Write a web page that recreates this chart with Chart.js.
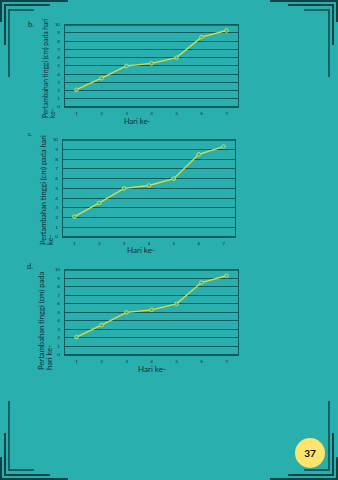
<!DOCTYPE html>
<html>
<head>
<meta charset="utf-8">
<script src="https://cdn.jsdelivr.net/npm/chart.js@4/dist/chart.umd.min.js"></script>
<style>
	html, body { margin: 0; padding: 0; }
	body {
		width: 338px; height: 480px; overflow: hidden; position: relative;
		background: #2aafaf; font-family: Lato, "DejaVu Sans", sans-serif; color: #10303a;
	}
	.abs { position: absolute; }
	canvas.abs { display: block; }
	.line { position: absolute; background: #0f4446; }
	.line.inner { background: #17605f; }
	.tag { position: absolute; font-size: 7.5px; color: #10303a; }
	.ytitle {
		position: absolute; transform-origin: 0 0; transform: rotate(-90deg);
		white-space: nowrap; font-size: 6.7px; line-height: 6.5px; color: #10303a;
	}
	.xtitle { position: absolute; font-size: 7.5px; color: #10303a; white-space: nowrap; }
	.page {
		position: absolute; left: 295px; top: 438px; width: 30px; height: 30px; border-radius: 50%;
		background: #fde46c; font: bold 10px Lato, sans-serif; color: #111;
		display: flex; align-items: center; justify-content: center;
	}
</style>
</head>
<body>

<!-- corner brackets -->
<div class="line" style="left:0;top:0;width:68px;height:2px"></div>
<div class="line" style="left:0;top:0;width:2px;height:22px"></div>
<div class="line" style="left:4px;top:4px;width:46px;height:2px"></div>
<div class="line" style="left:4px;top:4px;width:2px;height:41px"></div>
<div class="line inner" style="left:8px;top:9px;width:26px;height:2px"></div>
<div class="line inner" style="left:8px;top:9px;width:2px;height:68px"></div>

<div class="line" style="left:270px;top:0;width:68px;height:2px"></div>
<div class="line" style="left:336px;top:0;width:2px;height:22px"></div>
<div class="line" style="left:288px;top:4px;width:46px;height:2px"></div>
<div class="line" style="left:332px;top:4px;width:2px;height:41px"></div>
<div class="line inner" style="left:304px;top:9px;width:26px;height:2px"></div>
<div class="line inner" style="left:328px;top:9px;width:2px;height:68px"></div>

<div class="line" style="left:0;top:478px;width:68px;height:2px"></div>
<div class="line" style="left:0;top:457px;width:2px;height:23px"></div>
<div class="line" style="left:4px;top:474px;width:46px;height:2px"></div>
<div class="line" style="left:4px;top:433px;width:2px;height:43px"></div>
<div class="line inner" style="left:8px;top:469px;width:26px;height:2px"></div>
<div class="line inner" style="left:8px;top:401px;width:2px;height:70px"></div>

<div class="line" style="left:270px;top:478px;width:68px;height:2px"></div>
<div class="line" style="left:336px;top:457px;width:2px;height:23px"></div>
<div class="line" style="left:288px;top:474px;width:46px;height:2px"></div>
<div class="line" style="left:332px;top:433px;width:2px;height:43px"></div>
<div class="line inner" style="left:304px;top:469px;width:26px;height:2px"></div>
<div class="line inner" style="left:328px;top:401px;width:2px;height:70px"></div>

<!-- chart b -->
<div class="tag" style="left:28px;top:20px">b.</div>
<div class="ytitle" style="left:42px;top:118px">Pertambahan tinggi (cm) pada hari<br>ke-</div>
<div class="xtitle" style="left:124px;top:117px">Hari ke-</div>
<canvas id="chartB" class="abs" style="left:50px;top:18px" width="195" height="100"></canvas>

<!-- chart c -->
<div class="tag" style="left:28px;top:130px;font-size:6px">c.</div>
<div class="ytitle" style="left:40px;top:245px;font-size:7.4px;line-height:7px">Pertambahan tinggi (cm) pada hari<br>ke-</div>
<div class="xtitle" style="left:127px;top:245px;font-size:8px">Hari ke-</div>
<canvas id="chartC" class="abs" style="left:48px;top:133px" width="195" height="115"></canvas>

<!-- chart d -->
<div class="tag" style="left:27px;top:262px">d.</div>
<div class="ytitle" style="left:38px;top:370px;font-size:7.6px;line-height:7.5px">Pertambahan tinggi (cm) pada<br>hari ke-</div>
<div class="xtitle" style="left:138px;top:364px;font-size:8px">Hari ke-</div>
<canvas id="chartD" class="abs" style="left:50px;top:263px" width="195" height="104"></canvas>

<div class="page">37</div>

<script>
"use strict";

// growth (cm) per day, same data in all three graphs
const days = ["1", "2", "3", "4", "5", "6", "7"];
const growth = [2.1, 3.5, 5.0, 5.3, 6.0, 8.5, 9.3];
const yTicks = [0, 1, 2, 3, 4, 5, 6, 7, 8, 9, 10];

const gridColor = "#0e5b5d";
const tickColor = "#10303a";
const lineColor = "#dedb3e";

// outline of the plotting area
const frame = {
	id: "frame",
	afterDraw(chart) {
		const a = chart.chartArea;
		const ctx = chart.ctx;
		ctx.save();
		ctx.strokeStyle = gridColor;
		ctx.lineWidth = 1;
		ctx.strokeRect(a.left + 0.5, a.top + 0.5, a.right - a.left - 1, a.bottom - a.top - 1);
		ctx.restore();
	},
};

function makeChart(id, padding) {
	return new Chart(document.getElementById(id), {
		type: "line",
		data: {
			labels: days,
			datasets: [{
				data: growth,
				borderColor: lineColor,
				borderWidth: 1.4,
				pointRadius: 1.8,
				pointBorderWidth: 1,
				pointBackgroundColor: "#2aafaf",
				pointBorderColor: lineColor,
				tension: 0,
			}],
		},
		options: {
			responsive: false,
			animation: false,
			events: [],
			layout: { padding: padding },
			plugins: { legend: { display: false }, tooltip: { enabled: false } },
			scales: {
				x: {
					offset: true,
					grid: { display: false, drawTicks: false, tickLength: 0 },
					border: { display: false },
					ticks: {
						color: tickColor, font: { family: "Lato", size: 4.6 }, padding: 4,
						autoSkip: false, maxRotation: 0, minRotation: 0,
					},
					afterFit(scale) { scale.height = 10; },
				},
				y: {
					min: 0,
					max: 10,
					afterBuildTicks(scale) { scale.ticks = yTicks.map(v => ({ value: v })); },
					grid: { color: gridColor, lineWidth: 1, drawTicks: false, tickLength: 0 },
					border: { display: false },
					ticks: {
						color: tickColor, font: { family: "Lato", size: 4.6 }, padding: 4,
						autoSkip: false,
					},
					afterFit(scale) { scale.width = 10; },
				},
			},
		},
		plugins: [frame],
	});
}

makeChart("chartB", { left: 4, right: 6, top: 5, bottom: 1 });
makeChart("chartC", { left: 4, right: 7, top: 5, bottom: 1 });
makeChart("chartD", { left: 4, right: 6, top: 5, bottom: 2 });
</script>
</body>
</html>
